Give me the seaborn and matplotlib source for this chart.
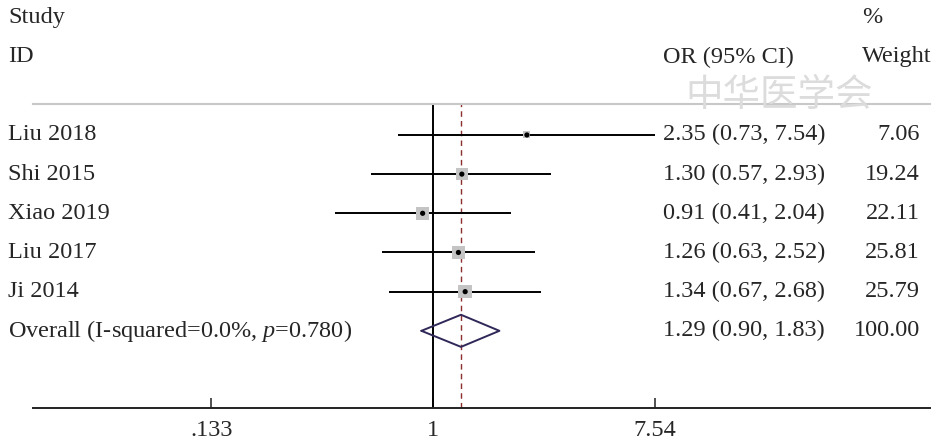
import numpy as np
import pandas as pd
import matplotlib
matplotlib.use("Agg")
import matplotlib.pyplot as plt
import seaborn as sns


# ======================================================
# DATA
# ======================================================
studies = ["Liu 2018", "Shi 2015", "Xiao 2019", "Liu 2017", "Ji 2014"]
or_vals = [2.35, 1.30, 0.91, 1.26, 1.34]
ci_low = [0.73, 0.57, 0.41, 0.63, 0.67]
ci_high = [7.54, 2.93, 2.04, 2.52, 2.68]
weights = [7.06, 19.24, 22.11, 25.81, 25.79]

overall_label = "Overall (I-squared=0.0%, $\\mathit{p}$=0.780)"
overall_or = 1.29
overall_low = 0.90
overall_high = 1.83

tick_vals = [0.133, 1, 7.54]
tick_labels = [".133", "1", "7.54"]

df = pd.DataFrame({
    "study": studies,
    "or": or_vals,
    "low": ci_low,
    "high": ci_high,
    "weight": weights,
})
df["row"] = np.arange(len(df))
overall_row = len(df)


# ======================================================
# STYLE
# ======================================================
sns.set_style("white")
plt.rcParams["font.family"] = ["Liberation Serif", "DejaVu Serif"]
plt.rcParams["mathtext.fontset"] = "custom"
plt.rcParams["mathtext.rm"] = "Liberation Serif"
plt.rcParams["mathtext.it"] = "Liberation Serif:italic"
FS = 17.5

fig = plt.figure(figsize=(9.45, 4.42), dpi=100)
ax = fig.add_axes([33 / 945, 34 / 442, 897 / 945, 304 / 442])
ax.set_xscale("log")

# x scale: 1 at axes px 400, ~110 px per ln unit, axes 897 px wide
px_per_ln = 109.9
ax.set_xlim(np.exp(-400 / px_per_ln), np.exp((897 - 400) / px_per_ln))
ax.set_ylim(6.97, -0.79)


# ======================================================
# REFERENCE LINES
# ======================================================
ax.axvline(1, color="black", lw=1.4, zorder=1)
ax.axvline(overall_or, color="#8e2f2f", lw=1.0, ls=(0, (4, 3)), zorder=1)


# ======================================================
# STUDY ROWS
# ======================================================
ax.hlines(df["row"], df["low"], df["high"], color="black", lw=1.4, zorder=2)

wmin, wmax = min(weights), max(weights)
sns.scatterplot(data=df, x="or", y="row", size="weight",
                sizes=(3.7 * wmin, 3.7 * wmax), size_norm=(wmin, wmax),
                marker="s", color="#c4c4c4", edgecolor="none",
                legend=False, ax=ax, zorder=3)
sns.scatterplot(data=df, x="or", y="row", s=14, color="black",
                edgecolor="none", legend=False, ax=ax, zorder=4)

# overall diamond
dx = [overall_low, overall_or, overall_high, overall_or, overall_low]
dy = [overall_row, overall_row - 0.41, overall_row, overall_row + 0.41, overall_row]
ax.plot(dx, dy, color="#2f2858", lw=1.4, zorder=3)


# ======================================================
# AXES
# ======================================================
for s in ["left", "right"]:
    ax.spines[s].set_visible(False)
ax.spines["top"].set_color("#c8c8c8")
ax.spines["top"].set_linewidth(1.5)
ax.spines["bottom"].set_color("#222222")
ax.spines["bottom"].set_linewidth(1.4)

ax.set_xticks(tick_vals)
ax.set_xticklabels(tick_labels, fontsize=FS)
ax.xaxis.set_minor_locator(matplotlib.ticker.NullLocator())
ax.tick_params(axis="x", direction="in", length=7, width=1.2,
               color="#333333", pad=9, bottom=True)
ax.set_yticks([])
ax.set_xlabel("")
ax.set_ylabel("")


# ======================================================
# TEXT COLUMNS
# ======================================================
tr = ax.get_yaxis_transform()  # x in axes fraction, y in data
x_lab = -25 / 897
x_or = 630 / 897
x_w = 887 / 897
x_whead = 829 / 897

ax.text(x_lab, -3.0, "Study", transform=tr, fontsize=FS, va="center", ha="left", clip_on=False)
ax.text(x_lab, -1.99, "ID", transform=tr, fontsize=FS, va="center", ha="left", clip_on=False)
ax.text(x_or, -1.99, "OR (95% CI)", transform=tr, fontsize=FS, va="center", ha="left", clip_on=False)
ax.text(x_whead, -3.0, "%", transform=tr, fontsize=FS, va="center", ha="left", clip_on=False)
ax.text(x_whead, -1.99, "Weight", transform=tr, fontsize=FS, va="center", ha="left", clip_on=False)

for i, r in df.iterrows():
    ax.text(x_lab, r["row"], r["study"], transform=tr, fontsize=FS, va="center", ha="left")
    ax.text(x_or, r["row"], f"{r['or']:.2f} ({r['low']:.2f}, {r['high']:.2f})",
            transform=tr, fontsize=FS, va="center", ha="left")
    ax.text(x_w, r["row"], f"{r['weight']:.2f}", transform=tr, fontsize=FS, va="center", ha="right")

ax.text(x_lab, overall_row, overall_label, transform=tr, fontsize=FS, va="center", ha="left")
ax.text(x_or, overall_row, f"{overall_or:.2f} ({overall_low:.2f}, {overall_high:.2f})",
        transform=tr, fontsize=FS, va="center", ha="left")
ax.text(x_w, overall_row, "100.00", transform=tr, fontsize=FS, va="center", ha="right")

# faint watermark
fig.text(0.825, 0.785, "中华医学会", fontsize=27, color="#dcdcdc",
         family=["Noto Sans CJK SC", "DejaVu Sans"], style="italic",
         ha="center", va="center", zorder=0)

fig.savefig("out.png", dpi=100)
